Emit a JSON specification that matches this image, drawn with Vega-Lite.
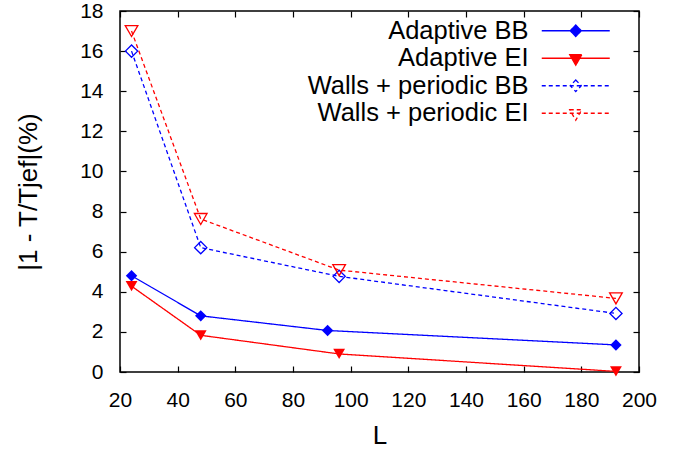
{
  "$schema": "https://vega.github.io/schema/vega-lite/v6.json",
  "width": 519,
  "height": 361,
  "autosize": {"type": "none"},
  "padding": {"left": 120, "top": 11, "right": 43, "bottom": 80},
  "background": "white",
  "config": {
    "font": "Liberation Sans",
    "view": {"stroke": "black", "strokeWidth": 1.5},
    "axis": {
      "grid": false,
      "domain": false,
      "labelFlush": false,
      "tickColor": "black",
      "tickSize": 6,
      "offset": -6,
      "tickWidth": 1.2,
      "labelFont": "Liberation Sans",
      "labelFontSize": 21,
      "labelColor": "black",
      "titleFont": "Liberation Sans",
      "titleFontSize": 26,
      "titleFontWeight": "normal",
      "titleColor": "black"
    }
  },
  "data": {
    "values": [
      {"series": "Adaptive BB", "L": 24, "v": 4.8},
      {"series": "Adaptive BB", "L": 48, "v": 2.8},
      {"series": "Adaptive BB", "L": 92, "v": 2.07},
      {"series": "Adaptive BB", "L": 192, "v": 1.35},
      {"series": "Adaptive EI", "L": 24, "v": 4.28},
      {"series": "Adaptive EI", "L": 48, "v": 1.83},
      {"series": "Adaptive EI", "L": 96, "v": 0.9},
      {"series": "Adaptive EI", "L": 192, "v": 0.03},
      {"series": "Walls + periodic BB", "L": 24, "v": 16.0},
      {"series": "Walls + periodic BB", "L": 48, "v": 6.2},
      {"series": "Walls + periodic BB", "L": 96, "v": 4.77},
      {"series": "Walls + periodic BB", "L": 192, "v": 2.92},
      {"series": "Walls + periodic EI", "L": 24, "v": 17.0},
      {"series": "Walls + periodic EI", "L": 48, "v": 7.63},
      {"series": "Walls + periodic EI", "L": 96, "v": 5.08},
      {"series": "Walls + periodic EI", "L": 192, "v": 3.67}
    ]
  },
  "resolve": {"axis": {"x": "independent", "y": "independent"}},
  "layer": [
    {
      "mark": {"type": "line", "strokeWidth": 1.3},
      "encoding": {
        "x": {
          "field": "L", "type": "quantitative",
          "scale": {"domain": [20, 200], "nice": false, "zero": false},
          "axis": {"orient": "bottom", "values": [20,40,60,80,100,120,140,160,180,200], "labelPadding": 17, "title": "L", "titlePadding": 12}
        },
        "y": {
          "field": "v", "type": "quantitative",
          "scale": {"domain": [0, 18], "nice": false},
          "axis": {"orient": "left", "values": [0,2,4,6,8,10,12,14,16,18], "labelPadding": 17, "title": "|1 - T/Tjef|(%)", "titlePadding": 38}
        },
        "color": {
          "field": "series", "type": "nominal",
          "scale": {"domain": ["Adaptive BB", "Adaptive EI", "Walls + periodic BB", "Walls + periodic EI"], "range": ["#0000ff", "#ff0000", "#0000ff", "#ff0000"]},
          "legend": {
            "title": null,
            "orient": "none",
            "legendX": 443,
            "legendY": 7,
            "padding": 0,
            "symbolSize": 400,
            "symbolStrokeWidth": 1.3,
            "labelFont": "Liberation Sans",
            "labelFontSize": 25.5,
            "labelColor": "black",
            "labelAlign": "right",
            "labelOffset": -60,
            "labelLimit": 400,
            "rowPadding": 0.5,
            "encode": {
              "symbols": {
                "update": {
                  "shape": {"signal": "datum.value == 'Adaptive BB' || datum.value == 'Walls + periodic BB' ? 'M-3.4,0L3.4,0M0,-0.58L0.55,0L0,0.58L-0.55,0Z' : 'M-3.4,0L3.4,0M-0.6,-0.35L0.6,-0.35L0,0.7Z'"},
                  "fill": {"signal": "datum.value == 'Adaptive BB' ? '#0000ff' : datum.value == 'Adaptive EI' ? '#ff0000' : 'transparent'"},
                  "strokeDash": {"signal": "datum.value == 'Adaptive BB' || datum.value == 'Adaptive EI' ? [1, 0] : [4, 3]"},
                  "size": {"value": 400},
                  "opacity": {"value": 1}
                }
              }
            }
          }
        },
        "strokeDash": {
          "field": "series", "type": "nominal",
          "scale": {"domain": ["Adaptive BB", "Adaptive EI", "Walls + periodic BB", "Walls + periodic EI"], "range": [[1, 0], [1, 0], [4, 3], [4, 3]]},
          "legend": null
        }
      }
    },
    {
      "transform": [{"filter": "datum.series == 'Adaptive BB'"}],
      "mark": {"type": "point", "shape": "diamond", "filled": true, "color": "#0000ff", "size": 130, "opacity": 1},
      "encoding": {
        "x": {
          "field": "L", "type": "quantitative",
          "axis": {"orient": "top", "values": [20,40,60,80,100,120,140,160,180,200], "labels": false, "title": null}
        },
        "y": {
          "field": "v", "type": "quantitative",
          "axis": {"orient": "right", "values": [0,2,4,6,8,10,12,14,16,18], "labels": false, "title": null}
        }
      }
    },
    {
      "transform": [{"filter": "datum.series == 'Adaptive EI'"}],
      "mark": {"type": "point", "shape": "triangle-down", "filled": true, "color": "#ff0000", "size": 140, "opacity": 1},
      "encoding": {
        "x": {"field": "L", "type": "quantitative", "axis": null},
        "y": {"field": "v", "type": "quantitative", "axis": null}
      }
    },
    {
      "transform": [{"filter": "datum.series == 'Walls + periodic BB'"}],
      "mark": {"type": "point", "shape": "diamond", "filled": false, "color": "#0000ff", "strokeWidth": 1.3, "size": 150, "opacity": 1},
      "encoding": {
        "x": {"field": "L", "type": "quantitative", "axis": null},
        "y": {"field": "v", "type": "quantitative", "axis": null}
      }
    },
    {
      "transform": [{"filter": "datum.series == 'Walls + periodic EI'"}],
      "mark": {"type": "point", "shape": "triangle-down", "filled": false, "color": "#ff0000", "strokeWidth": 1.3, "size": 160, "opacity": 1},
      "encoding": {
        "x": {"field": "L", "type": "quantitative", "axis": null},
        "y": {"field": "v", "type": "quantitative", "axis": null}
      }
    }
  ]
}
